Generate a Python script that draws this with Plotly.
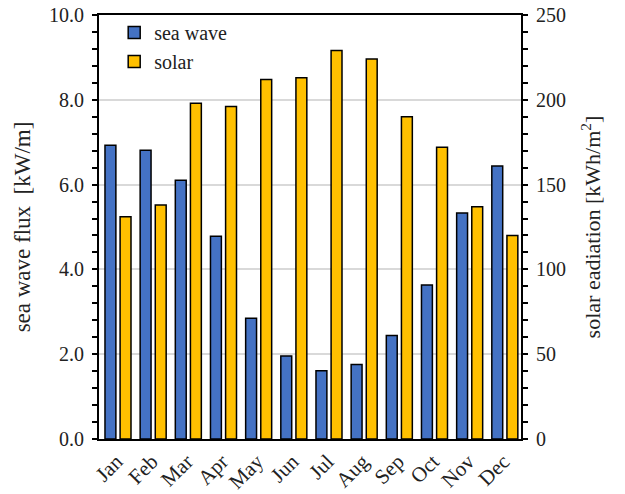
import plotly.graph_objects as go

months = ["Jan", "Feb", "Mar", "Apr", "May", "Jun",
          "Jul", "Aug", "Sep", "Oct", "Nov", "Dec"]
sea_wave = [6.93, 6.81, 6.10, 4.78, 2.85, 1.96, 1.61, 1.76, 2.44, 3.63, 5.33, 6.44]
solar = [131, 138, 198, 196, 212, 213, 229, 224, 190, 172, 137, 120]

FONT = "Liberation Serif, Times New Roman, serif"
BLUE = "#4472C4"
GOLD = "#FFC000"

fig = go.Figure()
fig.add_trace(go.Bar(
    x=months, y=sea_wave, name="sea wave", yaxis="y",
    marker=dict(color=BLUE, line=dict(color="black", width=1.5)),
    width=0.31, offset=-0.33,
))
fig.add_trace(go.Bar(
    x=months, y=solar, name="solar", yaxis="y2",
    marker=dict(color=GOLD, line=dict(color="black", width=1.5)),
    width=0.31, offset=0.10,
))

axis_common = dict(
    showline=True, linecolor="black", linewidth=2,
    ticks="outside", ticklen=5, tickwidth=1.5, tickcolor="black",
    tickfont=dict(family=FONT, size=20, color="#222"),
    zeroline=False, automargin=False,
)

fig.update_layout(
    width=625, height=494,
    margin=dict(l=99, r=104, t=15, b=55),
    paper_bgcolor="white", plot_bgcolor="white",
    barmode="overlay",
    font=dict(family=FONT, size=20, color="#222"),
    showlegend=True,
    legend=dict(
        x=0.036, y=1.005, xanchor="left", yanchor="top",
        bgcolor="rgba(0,0,0,0)", font=dict(family=FONT, size=20, color="#222"),
        tracegroupgap=0, itemwidth=30,
    ),
    xaxis=dict(
        showline=True, linecolor="black", linewidth=2, mirror=True,
        ticks="", tickangle=-45, automargin=False,
        tickfont=dict(family=FONT, size=21, color="#222"),
        showgrid=False,
    ),
    yaxis=dict(
        **axis_common,
        range=[0, 10], dtick=2, tickformat=".1f",
        showgrid=True, gridcolor="#d9d9d9", gridwidth=1.5,
        minor=dict(dtick=0.4, ticks="outside", ticklen=5, tickcolor="black", showgrid=False),
        title=dict(text="sea wave flux  [kW/m]", font=dict(family=FONT, size=23, color="#222"), standoff=12),
        ticklabelstandoff=4,
    ),
    yaxis2=dict(
        **axis_common,
        overlaying="y", side="right",
        range=[0, 250], dtick=50,
        showgrid=False,
        minor=dict(dtick=10, ticks="outside", ticklen=5, tickcolor="black", showgrid=False),
        title=dict(text="solar eadiation [kWh/m<sup>2</sup>]", font=dict(family=FONT, size=22, color="#222"), standoff=20),
        ticklabelstandoff=4,
    ),
)

fig.write_html("out.html")
